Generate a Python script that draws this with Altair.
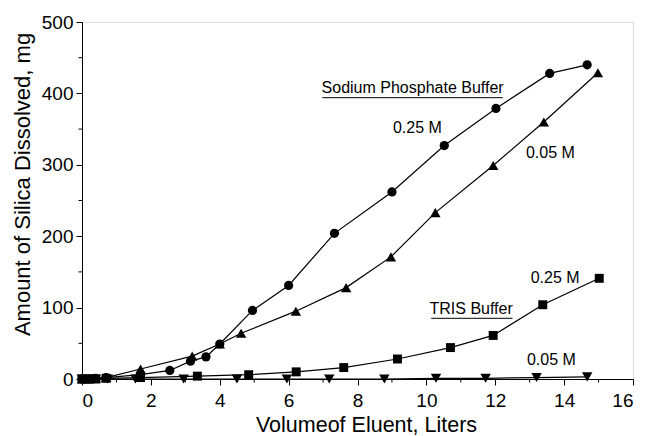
import altair as alt
import pandas as pd

# Sodium phosphate 0.25 M (circles)
sp25_x = [0.0, 0.2, 0.4, 0.7, 1.7, 2.55, 3.15, 3.6, 4.0, 4.95, 6.0, 7.33, 9.0, 10.52, 12.02, 13.58, 14.67]
sp25_y = [0, 0, 1, 2, 6, 12, 25, 31, 49, 96, 131, 204, 262, 327, 379, 428, 440]
# Sodium phosphate 0.05 M (triangles up)
sp05_x = [0.0, 0.2, 0.4, 0.7, 1.7, 3.2, 4.0, 4.62, 6.21, 7.67, 8.97, 10.26, 11.94, 13.41, 14.98]
sp05_y = [0, 0, 1, 2, 14, 32, 49, 64, 95, 128, 171, 233, 299, 360, 429]
# TRIS 0.25 M (squares)
tr25_x = [0.0, 0.2, 0.4, 0.7, 1.7, 3.35, 4.84, 6.22, 7.6, 9.16, 10.7, 11.94, 13.38, 15.02]
tr25_y = [0, 0, 0, 1, 2, 4, 6, 10, 16, 28, 44, 61, 104, 141]
# TRIS 0.05 M (triangles down)
tr05_x = [0.0, 0.2, 0.4, 0.75, 1.55, 2.95, 4.5, 5.95, 7.18, 8.78, 10.28, 11.72, 13.2, 14.67]
tr05_y = [0, 0, 0, 0, 0, 0, 0, 0, 0, 0, 1, 1, 2, 3]

series = [
    ("sp25", sp25_x, sp25_y, "circle", 85),
    ("sp05", sp05_x, sp05_y, "triangle-up", 110),
    ("tr25", tr25_x, tr25_y, "square", 80),
    ("tr05", tr05_x, tr05_y, "triangle-down", 110),
]

rows = []
for name, xs, ys, shape, size in series:
    for i, (xv, yv) in enumerate(zip(xs, ys)):
        rows.append({"s": name, "x": xv, "y": yv, "shape": shape, "size": size, "order": i})
df = pd.DataFrame(rows)

label_text = ["Sodium Phosphate Buffer", "0.25 M", "0.05 M", "TRIS Buffer", "0.25 M", "0.05 M"]
label_x = [9.6, 9.74, 13.6, 11.3, 13.74, 13.63]
label_y = [408, 351, 316, 98, 141, 26]
labels = pd.DataFrame({"t": label_text, "x": label_x, "y": label_y})

ul_x = [6.98, 10.14]
ul_x2 = [12.22, 12.5]
ul_y = [394, 85]
underlines = pd.DataFrame({"x": ul_x, "x2": ul_x2, "y": ul_y})

font = "Liberation Sans"

xscale = alt.Scale(domain=[0, 16], nice=False)
yscale = alt.Scale(domain=[0, 500], nice=False)

xaxis = alt.Axis(
    title="Volumeof Eluent, Liters", values=list(range(0, 17, 2)), format="d",
    grid=False, tickSize=6, labelFontSize=19, titleFontSize=21.5, labelFont=font, titleFont=font,
    labelColor="black", titleColor="black", domainColor="black", tickColor="black",
    titleFontWeight="normal", labelPadding=6, titlePadding=4, titleX=284,
)
yaxis = alt.Axis(
    title="Amount of Silica Dissolved, mg", values=list(range(0, 501, 100)),
    grid=False, tickSize=6, labelFontSize=19, titleFontSize=22, labelFont=font, titleFont=font,
    labelColor="black", titleColor="black", domainColor="black", tickColor="black",
    titleFontWeight="normal", labelPadding=3, titlePadding=7, titleY=162,
)

base = alt.Chart(df)

lines = base.mark_line(color="black", strokeWidth=1.2).encode(
    x=alt.X("x:Q", scale=xscale, axis=xaxis),
    y=alt.Y("y:Q", scale=yscale, axis=yaxis),
    detail="s:N",
    order="order:Q",
)

points = base.mark_point(filled=True, color="black", opacity=1).encode(
    x=alt.X("x:Q", scale=xscale),
    y=alt.Y("y:Q", scale=yscale),
    shape=alt.Shape("shape:N", scale=None),
    size=alt.Size("size:Q", scale=None),
)

# minor ticks
xminor = pd.DataFrame({"x": [1, 3, 5, 7, 9, 11, 13, 15]})
yminor = pd.DataFrame({"y": [50, 150, 250, 350, 450]})
xm = alt.Chart(xminor).mark_rule(color="black", strokeWidth=1).encode(
    x=alt.X("x:Q", scale=xscale), y=alt.value(357), y2=alt.value(360.5)
)
ym = alt.Chart(yminor).mark_rule(color="black", strokeWidth=1).encode(
    y=alt.Y("y:Q", scale=yscale), x=alt.value(0), x2=alt.value(-3.5)
)

text = alt.Chart(labels).mark_text(font=font, fontSize=16, color="black").encode(
    x=alt.X("x:Q", scale=xscale), y=alt.Y("y:Q", scale=yscale), text="t:N"
)
ul = alt.Chart(underlines).mark_rule(color="black", strokeWidth=1).encode(
    x=alt.X("x:Q", scale=xscale), x2="x2:Q", y=alt.Y("y:Q", scale=yscale)
)

chart = alt.layer(lines, points, xm, ym, text, ul).properties(
    width=551, height=357,
    autosize=alt.AutoSizeParams(type="none"),
    padding={"left": 82, "top": 22, "right": 15, "bottom": 57},
).configure_view(stroke="black", strokeWidth=1).configure(background="white")

chart.save("out.html", embed_options={"renderer": "svg", "actions": False})
